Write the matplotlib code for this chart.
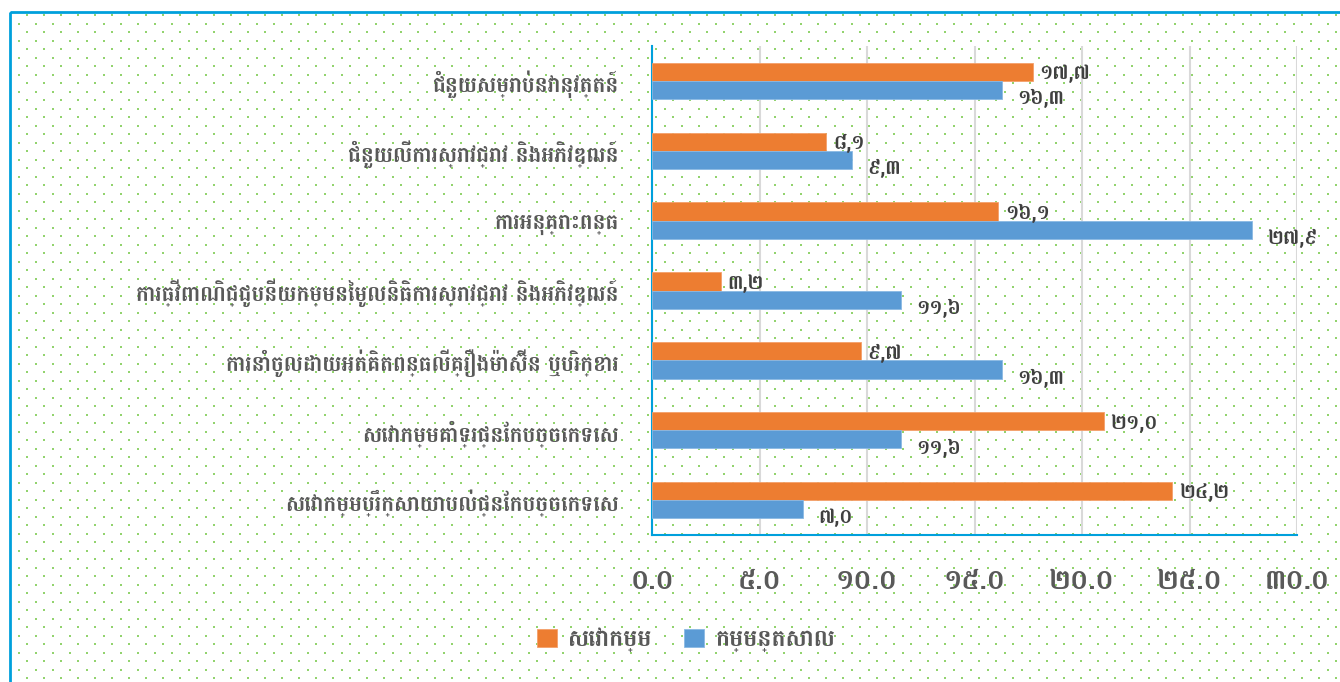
import numpy as np
import matplotlib
matplotlib.use("Agg")
import matplotlib.pyplot as plt
from matplotlib.patches import Rectangle

plt.rcParams['font.family'] = ['Battambang', 'Noto Sans Khmer', 'DejaVu Sans']
plt.rcParams['font.weight'] = 'bold'

categories = [
    'ជំនួយសម្រាប់នវានុវត្តន៍',
    'ជំនួយលើការស្រាវជ្រាវ និងអភិវឌ្ឍន៍',
    'ការអនុគ្រោះពន្ធ',
    'ការធ្វើពាណិជ្ជូបនីយកម្មនៃមូលនិធិការស្រាវជ្រាវ និងអភិវឌ្ឍន៍',
    'ការនាំចូលដោយអត់គិតពន្ធលើគ្រឿងម៉ាស៊ីន ឬបរិក្ខារ',
    'សេវាកម្មគាំទ្រផ្នែកបច្ចេកទេស',
    'សេវាកម្មប្រឹក្សាយោបល់ផ្នែកបច្ចេកទេស',
]
services = [17.7, 8.1, 16.1, 3.2, 9.7, 21.0, 24.2]
industry = [16.3, 9.3, 27.9, 11.6, 16.3, 11.6, 7.0]
series_names = ['សេវាកម្ម', 'កម្មន្តសាល']
xticks = [0, 5, 10, 15, 20, 25, 30]

ORANGE = '#ED7D31'
BLUE = '#5B9BD5'
TEXT = '#595959'
FRAME = '#00A0DC'

KH_DIGITS = str.maketrans('0123456789', '០១២៣៤៥៦៧៨៩')


def kh(v, sep):
    return f'{v:.1f}'.replace('.', sep).translate(KH_DIGITS)


W, H = 1340, 682
fig = plt.figure(figsize=(W / 100, H / 100), dpi=100)

# dotted background and frame
bg = fig.add_axes([0, 0, 1, 1], zorder=-5)
bg.set_xlim(0, W)
bg.set_ylim(H, 0)
bg.axis('off')
rows = np.arange(15, H, 8.5)
dx, dy = [], []
for i, y in enumerate(rows):
    xs = np.arange(10 + (i % 2) * 8.5, W, 17)
    xs = xs[xs > 12]
    dx.extend(xs)
    dy.extend([y] * len(xs))
bg.scatter(dx, dy, s=2.4, marker='s', color='#92d36e', linewidths=0)
bg.add_patch(Rectangle((10, 12), W, H, fill=False, edgecolor=FRAME, lw=2))

ax = fig.add_axes([652 / W, 1 - 535 / H, (1297 - 652) / W, (535 - 46) / H])
ax.patch.set_alpha(0)

y = np.arange(len(categories))
h = 0.26
ax.barh(y - h / 2, services, height=h, color=ORANGE, edgecolor='#f4a06a', lw=0.6,
        label=series_names[0], zorder=3)
ax.barh(y + h / 2, industry, height=h, color=BLUE, edgecolor='#8ab9e4', lw=0.6,
        label=series_names[1], zorder=3)

for i in range(len(categories)):
    ax.annotate(kh(services[i], ','), (services[i], y[i] - h / 2), xytext=(5, -1),
                textcoords='offset points', va='center', ha='left', fontsize=14.5,
                color='#404040')
    ax.annotate(kh(industry[i], ','), (industry[i], y[i] + h / 2), xytext=(11, -6),
                textcoords='offset points', va='center', ha='left', fontsize=14.5,
                color='#404040')

ax.set_xlim(0, 30)
ax.set_ylim(len(categories) - 0.5, -0.5)
ax.set_xticks(xticks)
ax.set_xticklabels([kh(v, '.') for v in xticks], fontsize=20, color=TEXT)
ax.set_yticks(y)
ax.set_yticklabels(categories, fontsize=15.5, color=TEXT)
ax.tick_params(axis='x', length=0, pad=24)
ax.tick_params(axis='y', length=0, pad=24)
ax.grid(axis='x', color='#d9d9d9', lw=1.5, zorder=0)
for s in ['top', 'right']:
    ax.spines[s].set_visible(False)
for s in ['left', 'bottom']:
    ax.spines[s].set_color(FRAME)
    ax.spines[s].set_linewidth(1.5)

fig.legend(loc='center', bbox_to_anchor=(686 / W, 1 - 640 / H), ncol=2, frameon=False,
           fontsize=17, handlelength=0.85, handleheight=0.85, handletextpad=0.5,
           columnspacing=1.3, labelcolor=TEXT)

fig.savefig('out.png', dpi=100)
